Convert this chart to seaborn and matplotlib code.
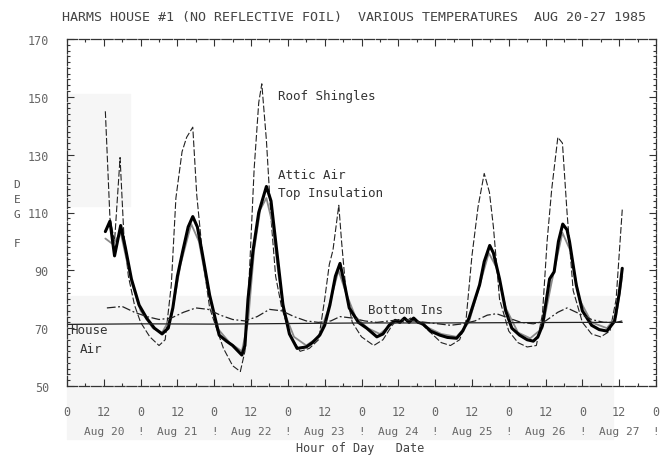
import numpy as np
import pandas as pd
import seaborn as sns
import matplotlib.pyplot as plt
from matplotlib.patches import Rectangle
from matplotlib.ticker import MultipleLocator

# Temperatures (deg F), time in hours from Aug 20 0:00
roof_hours = [12.5, 14, 15.5, 17.3, 18.5, 20, 22, 24, 27, 30, 32, 34, 35.5, 37.5, 39, 41,
              42.3, 44.5, 46.5, 48.7, 51, 54, 56.5, 58, 59.5, 61, 62.5, 63.5, 65, 66.5, 68,
              70, 73, 76, 79, 82, 84, 85.5, 86.7, 88.6, 89.5, 91, 93, 96, 100, 103, 106,
              108, 110, 112, 114, 116, 119, 122, 125, 128, 130, 132, 134, 136, 137.7, 139,
              141, 144, 147, 150, 153, 155, 156.5, 158, 160, 161.5, 163, 165, 168, 171, 174,
              177, 179, 181]
roof_temp = [145, 108, 100, 129, 103, 88, 78, 72, 67, 64, 66, 85, 115, 131, 136, 139.5,
             116, 92, 77, 70, 63, 57, 55, 62, 90, 125, 148, 154.5, 135, 108, 88,
             77, 67, 62, 63, 66, 80, 92, 97, 112.5, 100, 82, 72, 67, 64, 66, 71,
             73, 72, 73.5, 72, 71, 68, 65, 64, 66, 72, 95, 112, 123.5, 117, 105,
             80, 69, 65, 63.5, 64, 75, 100, 118, 136, 134, 110, 83, 72, 68, 67,
             69, 80, 111]

attic_hours = [12.5, 14, 15.5, 17.5, 19, 21, 23.5, 26, 28.5, 31, 33, 34.5, 36, 37.7, 39.5,
               41, 42.5, 44, 46.5, 49.6, 52, 54, 57, 58, 59, 60.6, 62.5, 65, 66.5, 68.4,
               70.4, 72.5, 75, 78, 80, 82.4, 84, 85.7, 87.5, 89, 90.5, 92, 95, 97.7, 101,
               103, 105, 107, 108.5, 110, 111.5, 113, 114.5, 116, 118.5, 121.5, 124, 127,
               129, 131, 134.5, 136, 137.8, 139, 141, 143, 145, 147.5, 150, 152, 153.5,
               155, 157.3, 158.8, 160.2, 161.6, 163, 163.8, 166, 168, 171, 173.5, 176,
               178.5, 180, 181]
attic_temp = [103.4, 107, 95, 105.5, 98, 87, 78, 73.4, 70, 68, 70, 77, 88, 96.5, 105,
              108.6, 105, 96.5, 81.4, 67.6, 65.5, 64, 60.7, 64, 80, 96.5, 110, 119, 114, 96.5,
              78, 68, 63, 63.5, 65, 67.6, 71, 78, 88, 92.4, 85, 77, 72, 70, 67,
              68, 71, 72.7, 72, 73.5, 72, 73.5, 72, 71.5, 69, 67.6, 66.8, 66.5,
              69, 73.4, 85, 93, 98.6, 96, 87, 76, 70, 67.6, 66, 65.5, 67,
              71, 87, 89.5, 100, 106, 104, 100, 85, 76, 71, 69.5, 69,
              72.4, 82, 90.7]

topins_hours = [12.5, 15, 17.5, 21, 24, 28, 31, 34, 37, 40.5, 43, 46, 49, 53, 57, 59, 61,
                63, 65, 67, 69, 71, 74, 78, 82, 85, 88.5, 91, 94, 98, 102, 106, 110, 114,
                118, 122, 127, 131, 134, 137.5, 140, 143, 147, 151, 155, 158, 161.5, 164,
                167, 171, 176, 179, 181]
topins_temp = [101, 99, 103, 86, 76, 70, 68.5, 74, 92, 106, 100, 83, 70, 65, 62, 72, 97,
               111, 115, 106, 88, 75, 67, 64, 67, 76, 90, 82, 74, 70, 68, 71.5, 73, 72.5,
               70, 68, 67, 72, 83, 96, 91, 77, 68.5, 66.5, 70, 86, 103, 97,
               80, 72, 70, 74, 88]

botins_hours = [13, 18, 22, 26, 30, 34, 38, 42, 46, 50, 54, 58, 62, 66, 70, 74, 78, 82, 86,
                89, 93, 97, 101, 105, 109, 113, 117, 121, 125, 129, 133, 137, 140, 144, 148,
                152, 156, 160, 163, 167, 171, 175, 179, 181]
botins_temp = [77, 77.5, 75.5, 74, 73, 73.5, 75.5, 77, 76.5, 74.5, 73, 72.5, 74, 76.5, 76,
               74, 72.5, 72, 72.5, 74, 73.5, 72.5, 72, 72.5, 73, 72.5, 72, 71.5, 71, 71.5,
               72.5, 74.5, 75, 73.5, 72, 71.5, 72.5, 75.5, 77, 75, 73, 72, 72, 72.5]

house_hours = [0, 24, 48, 72, 96, 120, 144, 168, 181]
house_temp = [71.3, 71.5, 71.4, 71.6, 71.8, 71.8, 71.9, 72.0, 72.0]

day_names = ['Aug 20', 'Aug 21', 'Aug 22', 'Aug 23', 'Aug 24', 'Aug 25', 'Aug 26', 'Aug 27']

sns.set_theme(style="white")
plt.rcParams['font.family'] = ['DejaVu Sans Mono', 'DejaVu Sans']

fig = plt.figure(figsize=(6.64, 4.56), dpi=100)

# faint grey patches left over from the scan
fig.patches.append(Rectangle((68 / 664, 1 - 207 / 456), 62 / 664, 112 / 456,
                             transform=fig.transFigure, color='#f6f6f6', zorder=-5))
fig.patches.append(Rectangle((67 / 664, 1 - 440 / 456), 546 / 664, 143 / 456,
                             transform=fig.transFigure, color='#f5f5f5', zorder=-5))

ax = fig.add_axes([67 / 664, 1 - 387 / 456, (656 - 67) / 664, (387 - 40) / 456])
ax.patch.set_alpha(0)

sns.lineplot(x=roof_hours, y=roof_temp, ax=ax, color='#222222', lw=0.8,
             linestyle=(0, (6, 2)), estimator=None)
sns.lineplot(x=topins_hours, y=topins_temp, ax=ax, color='#8a8a8a', lw=1.3, estimator=None)
sns.lineplot(x=attic_hours, y=attic_temp, ax=ax, color='black', lw=2.2, estimator=None)
sns.lineplot(x=botins_hours, y=botins_temp, ax=ax, color='#222222', lw=0.9,
             linestyle=(0, (7, 2, 1.5, 2)), estimator=None)
sns.lineplot(x=house_hours, y=house_temp, ax=ax, color='#222222', lw=0.9, estimator=None)

ax.set_xlim(0, 192)
ax.set_ylim(50, 170)

ax.set_yticks(range(50, 171, 20))
ax.yaxis.set_minor_locator(MultipleLocator(2))
ax.set_xticks(range(0, 193, 12))
ax.set_xticklabels(['0' if h % 24 == 0 else '12' for h in range(0, 193, 12)])
ax.xaxis.set_minor_locator(MultipleLocator(6))
ax.tick_params(which='both', direction='in', top=True, right=True, bottom=True, left=True,
               color='#333333', width=0.8)
ax.tick_params(which='major', length=5)
ax.tick_params(which='minor', length=2.5)
ax.tick_params(axis='x', labelsize=8.5, labelcolor='#666666', pad=14)
ax.tick_params(axis='y', labelsize=8.5, labelcolor='#666666', pad=13)

for s in ax.spines.values():
    s.set_color('#333333')
    s.set_linewidth(0.9)
    s.set_linestyle((0, (8, 1.5)))

# second row of the time axis: day names at noon, separators at midnight
xt = ax.get_xaxis_transform()
for i, name in enumerate(day_names):
    ax.text(24 * i + 12, -0.13, name, transform=xt, ha='center', va='center',
            fontsize=8, color='#666666')
    ax.text(24 * (i + 1), -0.13, '!', transform=xt, ha='center', va='center',
            fontsize=8, color='#666666')

# curve labels
lab = dict(fontsize=9, color='#333333', va='center', ha='left')
ax.text(68.7, 150.3, 'Roof Shingles', **lab)
ax.text(68.7, 123, 'Attic Air', **lab)
ax.text(68.7, 117, 'Top Insulation', **lab)
ax.text(98, 76.5, 'Bottom Ins', **lab)
ax.text(1, 69.7, 'House', **lab)
ax.text(4.2, 63, 'Air', **lab)

fig.text(62 / 664, 1 - 17 / 456,
         'HARMS HOUSE #1 (NO REFLECTIVE FOIL)  VARIOUS TEMPERATURES  AUG 20-27 1985',
         ha='left', va='center', fontsize=9.6, color='#444444')
fig.text(360 / 664, 1 - 449 / 456, 'Hour of Day   Date', ha='center', va='center',
         fontsize=8.5, color='#444444')
fig.text(17 / 664, 1 - 214.5 / 456, 'D\nE\nG\n\nF', ha='center', va='center',
         fontsize=8, color='#555555', linespacing=1.62)

fig.savefig('out.png', dpi=100)
